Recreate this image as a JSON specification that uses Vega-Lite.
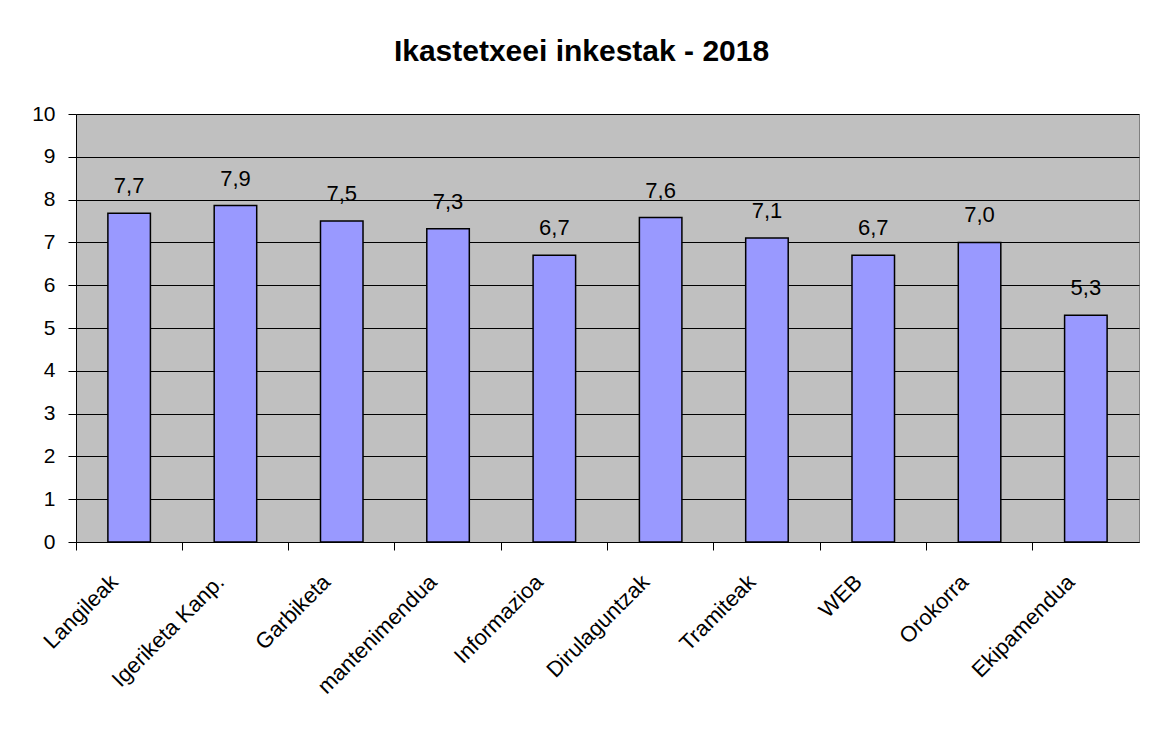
{
  "$schema": "https://vega.github.io/schema/vega-lite/v6.json",
  "width": 1063,
  "height": 428,
  "autosize": {"type": "none"},
  "padding": {"left": 76, "top": 114, "right": 13, "bottom": 189},
  "background": "white",
  "title": {
    "text": "Ikastetxeei inkestak - 2018",
    "font": "Liberation Sans",
    "fontSize": 30,
    "fontWeight": "bold",
    "color": "black",
    "offset": 36,
    "dx": -26
  },
  "config": {
    "locale": {"number": {"decimal": ",", "thousands": ".", "grouping": [3], "currency": ["", " €"]}},
    "view": {"fill": "#C0C0C0", "stroke": "#808080", "strokeWidth": 1},
    "font": "Liberation Sans"
  },
  "resolve": {"axis": {"x": "independent"}},
  "data": {
    "values": [
      {"kategoria": "Langileak", "balioa": 7.68},
      {"kategoria": "Igeriketa Kanp.", "balioa": 7.86},
      {"kategoria": "Garbiketa", "balioa": 7.5},
      {"kategoria": "mantenimendua", "balioa": 7.32},
      {"kategoria": "Informazioa", "balioa": 6.7},
      {"kategoria": "Dirulaguntzak", "balioa": 7.58},
      {"kategoria": "Tramiteak", "balioa": 7.1},
      {"kategoria": "WEB", "balioa": 6.7},
      {"kategoria": "Orokorra", "balioa": 7.0},
      {"kategoria": "Ekipamendua", "balioa": 5.3}
    ]
  },
  "layer": [
    {
      "mark": {"type": "bar", "width": {"band": 0.4}, "fill": "#9999FF", "stroke": "black", "strokeWidth": 1.5},
      "encoding": {
        "x": {
          "field": "kategoria",
          "type": "nominal",
          "sort": null,
          "scale": {"paddingInner": 0, "paddingOuter": 0},
          "axis": {
            "title": null,
            "orient": "bottom",
            "labelAngle": -45,
            "labelFontSize": 22,
            "labelColor": "black",
            "labelPadding": 29,
            "labelOffset": -22,
            "labelFont": "Liberation Sans",
            "ticks": false,
            "domain": false,
            "grid": false
          }
        },
        "y": {
          "field": "balioa",
          "type": "quantitative",
          "scale": {"domain": [0, 10]},
          "axis": {
            "title": null,
            "values": [0, 1, 2, 3, 4, 5, 6, 7, 8, 9, 10],
            "grid": true,
            "gridColor": "black",
            "gridOpacity": 1,
            "gridWidth": 1,
            "domain": true,
            "domainColor": "black",
            "domainWidth": 1,
            "ticks": true,
            "tickColor": "black",
            "tickSize": 8,
            "labelFontSize": 21,
            "labelColor": "black",
            "labelPadding": 13,
            "labelFont": "Liberation Sans"
          }
        }
      }
    },
    {
      "mark": {"type": "text", "dy": -27, "fontSize": 22, "font": "Liberation Sans", "color": "black"},
      "encoding": {
        "x": {"field": "kategoria", "type": "nominal", "sort": null, "axis": null},
        "y": {"field": "balioa", "type": "quantitative"},
        "text": {"field": "balioa", "type": "quantitative", "format": ".1f"}
      }
    },
    {
      "mark": {"type": "tick", "opacity": 0},
      "encoding": {
        "x": {
          "field": "kategoria",
          "type": "nominal",
          "sort": null,
          "axis": {
            "title": null,
            "orient": "bottom",
            "labels": false,
            "bandPosition": 0,
            "ticks": true,
            "tickColor": "black",
            "tickSize": 8,
            "domain": true,
            "domainColor": "black",
            "grid": false
          }
        }
      }
    }
  ]
}
